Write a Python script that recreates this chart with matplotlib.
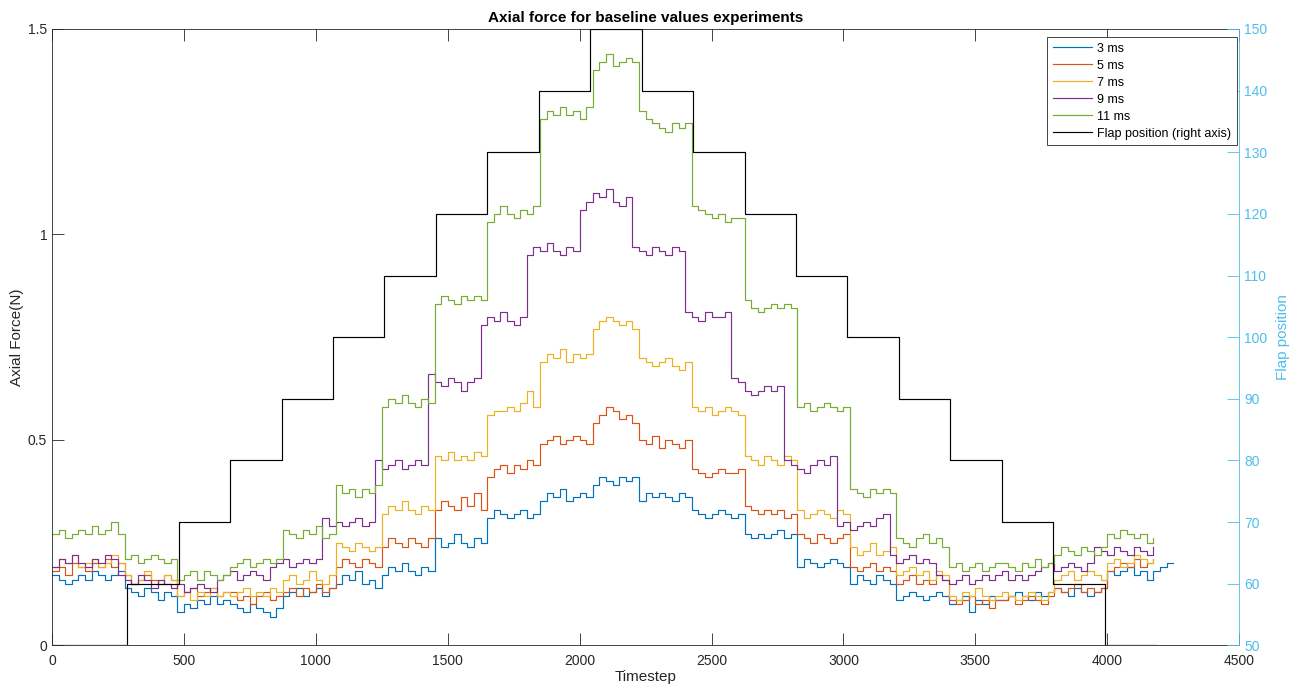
import numpy as np
import matplotlib.pyplot as plt

plt.rcParams['font.family'] = ['Liberation Sans', 'DejaVu Sans']

# sample grid of the force traces (every 25 timesteps)
step = 25

force_3ms = [
    0.17, 0.16, 0.15, 0.16, 0.17, 0.16, 0.18, 0.17, 0.16, 0.17, 0.18,
    0.14, 0.13, 0.12, 0.14, 0.13, 0.11, 0.13, 0.12,
    0.08, 0.10, 0.09, 0.11, 0.10, 0.12, 0.10, 0.11,
    0.10, 0.09, 0.08, 0.10, 0.09, 0.08, 0.07, 0.09,
    0.12, 0.13, 0.14, 0.12, 0.13, 0.14, 0.12, 0.14,
    0.15, 0.17, 0.16, 0.18, 0.15, 0.16, 0.14,
    0.17, 0.19, 0.18, 0.20, 0.18, 0.17, 0.19, 0.18,
    0.26, 0.24, 0.25, 0.27, 0.25, 0.24, 0.26, 0.25,
    0.31, 0.33, 0.32, 0.31, 0.32, 0.33, 0.31, 0.32,
    0.35, 0.37, 0.36, 0.38, 0.35, 0.36, 0.37, 0.36,
    0.39, 0.41, 0.40, 0.39, 0.41, 0.40, 0.41,
    0.35, 0.37, 0.36, 0.37, 0.36, 0.35, 0.37, 0.36,
    0.33, 0.32, 0.31, 0.32, 0.33, 0.32, 0.31, 0.32,
    0.27, 0.26, 0.27, 0.26, 0.27, 0.28, 0.26, 0.27,
    0.19, 0.21, 0.20, 0.19, 0.20, 0.21, 0.20, 0.19,
    0.15, 0.17, 0.16, 0.15, 0.17, 0.16, 0.15,
    0.11, 0.12, 0.13, 0.12, 0.11, 0.12, 0.13, 0.12,
    0.10, 0.11, 0.12, 0.08, 0.11, 0.10, 0.12, 0.11,
    0.11, 0.12, 0.13, 0.12, 0.11, 0.13, 0.12, 0.13,
    0.14, 0.13, 0.12, 0.14, 0.13, 0.12, 0.13, 0.14,
    0.18, 0.17, 0.18, 0.19, 0.17, 0.18, 0.16, 0.18, 0.19, 0.20, 0.20,
]

force_5ms = [
    0.18, 0.19, 0.17, 0.20, 0.19, 0.18, 0.20, 0.19, 0.21, 0.19, 0.20,
    0.17, 0.15, 0.16, 0.17, 0.16, 0.15, 0.17, 0.16,
    0.12, 0.13, 0.14, 0.12, 0.13, 0.14, 0.12, 0.13,
    0.13, 0.11, 0.12, 0.10, 0.12, 0.13, 0.11, 0.12,
    0.13, 0.14, 0.12, 0.14, 0.13, 0.15, 0.13, 0.14,
    0.19, 0.21, 0.20, 0.19, 0.21, 0.20, 0.19,
    0.24, 0.26, 0.25, 0.24, 0.26, 0.25, 0.24, 0.26,
    0.33, 0.35, 0.34, 0.33, 0.36, 0.34, 0.37, 0.33,
    0.41, 0.43, 0.44, 0.42, 0.44, 0.43, 0.45, 0.44,
    0.49, 0.50, 0.51, 0.49, 0.50, 0.51, 0.50, 0.49,
    0.54, 0.56, 0.58, 0.57, 0.55, 0.56, 0.54,
    0.50, 0.49, 0.51, 0.48, 0.50, 0.49, 0.48, 0.50,
    0.43, 0.42, 0.41, 0.42, 0.43, 0.42, 0.42, 0.43,
    0.34, 0.33, 0.32, 0.33, 0.32, 0.33, 0.31, 0.32,
    0.27, 0.26, 0.25, 0.27, 0.26, 0.25, 0.26, 0.27,
    0.19, 0.18, 0.19, 0.20, 0.18, 0.19, 0.18,
    0.15, 0.16, 0.17, 0.15, 0.16, 0.15, 0.17, 0.16,
    0.11, 0.10, 0.11, 0.12, 0.10, 0.11, 0.09, 0.11,
    0.11, 0.12, 0.10, 0.11, 0.12, 0.11, 0.10, 0.12,
    0.14, 0.13, 0.14, 0.15, 0.13, 0.14, 0.13, 0.14,
    0.18, 0.19, 0.20, 0.19, 0.21, 0.19, 0.20, 0.21,
]

force_7ms = [
    0.19, 0.21, 0.20, 0.22, 0.19, 0.20, 0.21, 0.19, 0.20, 0.22, 0.20,
    0.17, 0.15, 0.16, 0.18, 0.15, 0.16, 0.17, 0.16,
    0.12, 0.13, 0.11, 0.13, 0.12, 0.14, 0.12, 0.13,
    0.12, 0.13, 0.14, 0.12, 0.13, 0.12, 0.14, 0.13,
    0.16, 0.17, 0.15, 0.16, 0.18, 0.16, 0.15, 0.17,
    0.25, 0.24, 0.23, 0.25, 0.24, 0.23, 0.24,
    0.32, 0.34, 0.33, 0.35, 0.33, 0.32, 0.34, 0.33,
    0.46, 0.45, 0.47, 0.45, 0.46, 0.45, 0.47, 0.46,
    0.56, 0.57, 0.57, 0.58, 0.57, 0.59, 0.62, 0.58,
    0.69, 0.71, 0.70, 0.72, 0.69, 0.71, 0.70, 0.71,
    0.77, 0.79, 0.80, 0.79, 0.78, 0.79, 0.77,
    0.70, 0.69, 0.68, 0.69, 0.70, 0.68, 0.67, 0.69,
    0.58, 0.57, 0.58, 0.56, 0.57, 0.58, 0.57, 0.56,
    0.46, 0.45, 0.44, 0.46, 0.45, 0.44, 0.46, 0.45,
    0.33, 0.31, 0.32, 0.33, 0.32, 0.31, 0.33, 0.32,
    0.24, 0.22, 0.23, 0.25, 0.22, 0.23, 0.24,
    0.17, 0.18, 0.19, 0.17, 0.18, 0.16, 0.18, 0.17,
    0.12, 0.11, 0.13, 0.12, 0.14, 0.12, 0.11, 0.12,
    0.13, 0.12, 0.11, 0.12, 0.13, 0.12, 0.11, 0.13,
    0.16, 0.17, 0.18, 0.16, 0.17, 0.18, 0.17, 0.16,
    0.20, 0.21, 0.19, 0.20, 0.22, 0.21, 0.20, 0.21,
]

force_9ms = [
    0.19, 0.21, 0.20, 0.22, 0.20, 0.19, 0.21, 0.20, 0.22, 0.21,
    0.17, 0.16, 0.15, 0.17, 0.16, 0.14, 0.16, 0.15,
    0.14, 0.15, 0.13, 0.14, 0.15, 0.14, 0.13,
    0.16, 0.17, 0.18, 0.16, 0.17, 0.18, 0.17, 0.16,
    0.19, 0.20, 0.21, 0.19, 0.20, 0.21, 0.20, 0.21,
    0.31, 0.29, 0.30, 0.29, 0.30, 0.31, 0.29, 0.30,
    0.45, 0.43, 0.44, 0.45, 0.43, 0.44, 0.45, 0.44,
    0.66, 0.64, 0.63, 0.65, 0.64, 0.62, 0.64, 0.65,
    0.78, 0.80, 0.79, 0.81, 0.79, 0.78, 0.80,
    0.95, 0.97, 0.96, 0.98, 0.96, 0.95, 0.97, 0.96,
    1.06, 1.08, 1.10, 1.09, 1.11, 1.08, 1.07, 1.09,
    0.97, 0.96, 0.95, 0.97, 0.96, 0.95, 0.97, 0.96,
    0.81, 0.80, 0.79, 0.81, 0.80, 0.80, 0.81,
    0.65, 0.64, 0.62, 0.61, 0.62, 0.63, 0.62, 0.63,
    0.45, 0.44, 0.43, 0.42, 0.44, 0.45, 0.44, 0.46,
    0.29, 0.30, 0.28, 0.29, 0.30, 0.29, 0.31, 0.32,
    0.22, 0.20, 0.21, 0.22, 0.20, 0.21, 0.20,
    0.17, 0.16, 0.15, 0.16, 0.17, 0.15, 0.16, 0.17,
    0.16, 0.17, 0.18, 0.16, 0.17, 0.16, 0.17, 0.18,
    0.19, 0.20, 0.18, 0.19, 0.20, 0.19, 0.18, 0.20,
    0.24, 0.23, 0.22, 0.24, 0.23, 0.22, 0.24, 0.23, 0.22, 0.24,
]

force_11ms = [
    0.27, 0.28, 0.26, 0.27, 0.28, 0.27, 0.29, 0.27, 0.28, 0.30, 0.27,
    0.21, 0.22, 0.20, 0.21, 0.22, 0.21, 0.20, 0.21,
    0.16, 0.17, 0.18, 0.16, 0.18, 0.17, 0.16, 0.17,
    0.19, 0.20, 0.21, 0.19, 0.20, 0.21, 0.20, 0.21,
    0.28, 0.27, 0.26, 0.28, 0.27, 0.29, 0.26, 0.27,
    0.39, 0.37, 0.38, 0.36, 0.38, 0.37, 0.39,
    0.58, 0.60, 0.59, 0.61, 0.59, 0.58, 0.60, 0.59,
    0.83, 0.85, 0.84, 0.83, 0.85, 0.84, 0.85, 0.84,
    1.03, 1.05, 1.07, 1.05, 1.04, 1.06, 1.05, 1.07,
    1.28, 1.30, 1.29, 1.31, 1.29, 1.30, 1.28, 1.31,
    1.40, 1.42, 1.44, 1.41, 1.42, 1.43, 1.42,
    1.30, 1.28, 1.27, 1.26, 1.25, 1.27, 1.26, 1.27,
    1.07, 1.06, 1.05, 1.04, 1.05, 1.03, 1.04, 1.04,
    0.84, 0.82, 0.81, 0.82, 0.83, 0.82, 0.83, 0.82,
    0.58, 0.59, 0.57, 0.58, 0.59, 0.58, 0.57, 0.58,
    0.38, 0.37, 0.36, 0.38, 0.37, 0.38, 0.37,
    0.26, 0.25, 0.24, 0.26, 0.27, 0.25, 0.26, 0.24,
    0.19, 0.20, 0.18, 0.19, 0.20, 0.18, 0.19, 0.20,
    0.20, 0.19, 0.18, 0.20, 0.19, 0.21, 0.19, 0.20,
    0.22, 0.24, 0.23, 0.22, 0.24, 0.23, 0.22, 0.24,
    0.27, 0.26, 0.28, 0.27, 0.26, 0.27, 0.25, 0.26,
]

series = [force_3ms, force_5ms, force_7ms, force_9ms, force_11ms]
labels = ['3 ms', '5 ms', '7 ms', '9 ms', '11 ms']
colors = ['#0072BD', '#D95319', '#EDB120', '#7E2F8E', '#77AC30']

# flap position steps (timestep where each level starts)
flap_t = [0, 285, 480, 675, 870, 1065, 1260, 1455, 1650, 1845, 2040,
          2235, 2430, 2625, 2820, 3015, 3210, 3405, 3600, 3795, 3990, 4185]
flap_pos = [50, 60, 70, 80, 90, 100, 110, 120, 130, 140, 150,
            140, 130, 120, 110, 100, 90, 80, 70, 60, 50, 50]

right_color = '#4DBEEE'
axis_color = '#262626'

fig = plt.figure(figsize=(13.03, 6.9), dpi=100)
ax = fig.add_axes([0.0399, 0.0648, 0.9111, 0.8932])

handles = []
for vals, lab, col in zip(series, labels, colors):
    t = np.arange(len(vals)) * step
    h, = ax.plot(t, vals, drawstyle='steps-post', color=col, lw=0.85, label=lab)
    handles.append(h)

ax.set_xlim(0, 4500)
ax.set_ylim(0, 1.5)
ax.set_xticks(np.arange(0, 4501, 500))
ax.set_yticks([0, 0.5, 1, 1.5])
ax.set_yticklabels(['0', '0.5', '1', '1.5'])
ax.tick_params(axis='both', direction='in', length=8.6, width=0.6,
               labelsize=10, colors=axis_color, top=True)
ax.tick_params(axis='x', pad=6)
ax.set_xlabel('Timestep', fontsize=11, color=axis_color, labelpad=2)
ax.set_ylabel('Axial Force(N)', fontsize=11, color=axis_color, labelpad=3)
ax.set_title('Axial force for baseline values experiments', fontsize=11,
             fontweight='bold', pad=5)
for s in ['left', 'top', 'bottom']:
    ax.spines[s].set_color(axis_color)
    ax.spines[s].set_linewidth(0.6)
ax.spines['right'].set_visible(False)

ax2 = ax.twinx()
hf, = ax2.plot(flap_t, flap_pos, drawstyle='steps-post', color='black', lw=0.85,
               label='Flap position (right axis)')
handles.append(hf)
ax2.set_ylim(50, 150)
ax2.set_yticks(np.arange(50, 151, 10))
ax2.tick_params(axis='y', direction='in', length=8.6, width=0.6,
                labelsize=10, colors=right_color)
ax2.set_ylabel('Flap position', fontsize=11, color=right_color, labelpad=6)
for s in ['left', 'top', 'bottom']:
    ax2.spines[s].set_visible(False)
ax2.spines['right'].set_color(right_color)
ax2.spines['right'].set_linewidth(0.6)

leg = ax2.legend(handles=handles, loc='upper right', bbox_to_anchor=(0.998, 0.987),
                 fontsize=9, fancybox=False, framealpha=1, edgecolor=axis_color,
                 borderaxespad=0, handlelength=3.1, handletextpad=0.45,
                 labelspacing=0.4, borderpad=0.45)
leg.get_frame().set_linewidth(0.6)

fig.savefig('out.png', dpi=100)
